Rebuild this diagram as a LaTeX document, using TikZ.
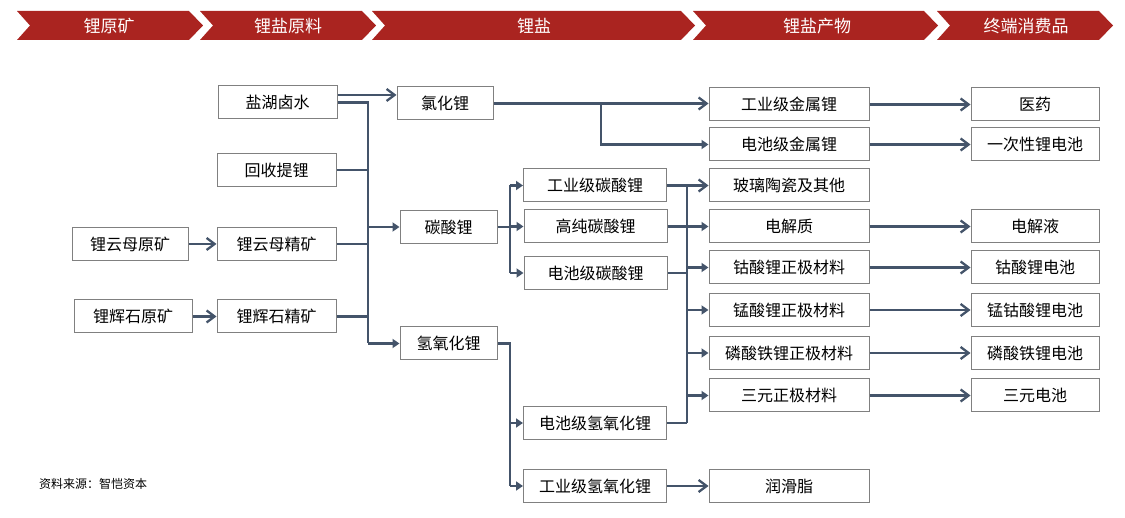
\documentclass[tikz,border=0pt]{standalone}
\usepackage{fontspec}
\setmainfont{Noto Sans CJK SC}
\usetikzlibrary{arrows.meta}
\definecolor{hdr}{RGB}{170,36,32}
\definecolor{conn}{RGB}{68,84,106}
\definecolor{bord}{RGB}{128,128,128}
\begin{document}
\begin{tikzpicture}[x=1pt,y=-1pt,
  box/.style={draw=bord, line width=1pt, inner sep=0pt, minimum height=33pt, font=\fontsize{16}{18}\selectfont, text=black},
  ln/.style={draw=conn, line width=2.3pt},
  oa/.style={ln, -{Straight Barb[length=8pt,width=12pt,line width=2.3pt]}},
  fa/.style={ln, -{Triangle[length=7pt,width=9pt]}},
  hdrtxt/.style={text=white, font=\fontsize{17}{19}\selectfont},
  chev/.style={fill=hdr, draw=none}
]
\useasboundingbox (0,0) rectangle (1125,518);
% header chevrons
\foreach \a/\b in {17/189, 200/362, 372/681, 693/924, 937/1099}{
  \fill[chev] (\a,11) -- (\b,11) -- (\b+14,25.5) -- (\b,40) -- (\a,40) -- (\a+13,25.5) -- cycle;
}
\node[hdrtxt] (h1) at (109,26) {锂原矿};
\node[hdrtxt] (h2) at (288,26) {锂盐原料};
\node[hdrtxt] (h3) at (534,26) {锂盐};
\node[hdrtxt] (h4) at (817,26) {锂盐产物};
\node[hdrtxt] (h5) at (1026,26) {终端消费品};

% column 1
\node[box, minimum width=116pt] (yyy) at (130,244) {锂云母原矿};
\node[box, minimum width=118pt] (hsy) at (133,316.5) {锂辉石原矿};
% column 2
\node[box, minimum width=119pt] (ys) at (277.5,102.5) {盐湖卤水};
\node[box, minimum width=119pt] (hs) at (276.5,170) {回收提锂};
\node[box, minimum width=119pt] (yym) at (276.5,244) {锂云母精矿};
\node[box, minimum width=119pt] (hsj) at (276.5,316.5) {锂辉石精矿};
% column 3
\node[box, minimum width=96pt] (lhl) at (445,103.5) {氯化锂};
\node[box, minimum width=97pt] (tsl) at (448.5,227) {碳酸锂};
\node[box, minimum width=97pt] (qyh) at (448.5,343.5) {氢氧化锂};
% column 4
\node[box, minimum width=143pt] (gyt) at (595,185.5) {工业级碳酸锂};
\node[box, minimum width=143pt] (gct) at (595.5,226.5) {高纯碳酸锂};
\node[box, minimum width=143pt] (dct) at (595.5,273) {电池级碳酸锂};
\node[box, minimum width=143pt] (dcq) at (595,423) {电池级氢氧化锂};
\node[box, minimum width=143pt] (gyq) at (595,486) {工业级氢氧化锂};
% column 5
\node[box, minimum width=160pt] (gjl) at (789,104.5) {工业级金属锂};
\node[box, minimum width=160pt] (djl) at (789,144.5) {电池级金属锂};
\node[box, minimum width=160pt] (blt) at (789,185.5) {玻璃陶瓷及其他};
\node[box, minimum width=160pt] (djz) at (789,226.5) {电解质};
\node[box, minimum width=160pt] (gsz) at (789,267.5) {钴酸锂正极材料};
\node[box, minimum width=160pt] (msz) at (789,310) {锰酸锂正极材料};
\node[box, minimum width=160pt] (lsz) at (789,353) {磷酸铁锂正极材料};
\node[box, minimum width=160pt] (sy) at (789,395.5) {三元正极材料};
\node[box, minimum width=160pt] (rhz) at (789,486) {润滑脂};
% column 6
\node[box, minimum width=128pt] (yy) at (1035,104.5) {医药};
\node[box, minimum width=128pt] (ycx) at (1035,144.5) {一次性锂电池};
\node[box, minimum width=128pt] (djy) at (1035,226.5) {电解液};
\node[box, minimum width=128pt] (gsd) at (1035,267.5) {钴酸锂电池};
\node[box, minimum width=128pt] (mgd) at (1035,310) {锰钴酸锂电池};
\node[box, minimum width=128pt] (lsd) at (1035,353) {磷酸铁锂电池};
\node[box, minimum width=128pt] (syd) at (1035,395.5) {三元电池};

% footer
\node[anchor=west, inner sep=0pt, font=\fontsize{12}{14}\selectfont] (src) at (39,484) {资料来源：智恺资本};

% bus coordinates
\coordinate (b1) at (368,0);
\coordinate (b2) at (510,0);
\coordinate (b3) at (687,0);
\coordinate (b4) at (601,0);

% left
\draw[oa] (yyy.east) -- (yym.west);
\draw[oa] (hsy.east) -- (hsj.west);
\draw[oa] ([yshift=7.5pt]ys.east) -- ([yshift=7.5pt]ys.east -| lhl.west);
\draw[ln] (ys.east) -- (ys.east -| b1) -- (qyh.west -| b1);
\draw[ln] (hs.east) -- (hs.east -| b1);
\draw[ln] (yym.east) -- (yym.east -| b1);
\draw[ln] (hsj.east) -- (hsj.east -| b1);
\draw[fa] (tsl.west -| b1) -- (tsl.west);
\draw[fa] (qyh.west -| b1) -- (qyh.west);

% lithium chloride
\draw[oa] (lhl.east) -- (lhl.east -| gjl.west);
\draw[fa] (lhl.east -| b4) |- (djl.west);

% carbonate bus
\draw[ln] (tsl.east) -- (tsl.east -| b2);
\draw[ln] (gyt.west -| b2) -- (dct.west -| b2);
\draw[fa] (gyt.west -| b2) -- (gyt.west);
\draw[fa] (gct.west -| b2) -- (gct.west);
\draw[fa] (dct.west -| b2) -- (dct.west);

% hydroxide bus
\draw[ln] (qyh.east) -- (qyh.east -| b2) -- (gyq.west -| b2);
\draw[fa] (dcq.west -| b2) -- (dcq.west);
\draw[fa] (gyq.west -| b2) -- (gyq.west);

% right bus
\draw[oa] (gyt.east) -- (blt.west);
\draw[ln] (gyt.east -| b3) -- (dcq.east -| b3);
\draw[fa] (gct.east) -- (djz.west);
\draw[ln] (dct.east) -- (dct.east -| b3);
\draw[ln] (dcq.east) -- (dcq.east -| b3);
\draw[fa] (gsz.west -| b3) -- (gsz.west);
\draw[fa] (msz.west -| b3) -- (msz.west);
\draw[fa] (lsz.west -| b3) -- (lsz.west);
\draw[fa] (sy.west -| b3) -- (sy.west);
\draw[oa] (gyq.east) -- (rhz.west);

% to consumer products
\draw[oa] (gjl.east) -- (yy.west);
\draw[oa] (djl.east) -- (ycx.west);
\draw[oa] (djz.east) -- (djy.west);
\draw[oa] (gsz.east) -- (gsd.west);
\draw[oa] (msz.east) -- (mgd.west);
\draw[oa] (lsz.east) -- (lsd.west);
\draw[oa] (sy.east) -- (syd.west);
\end{tikzpicture}
\end{document}
